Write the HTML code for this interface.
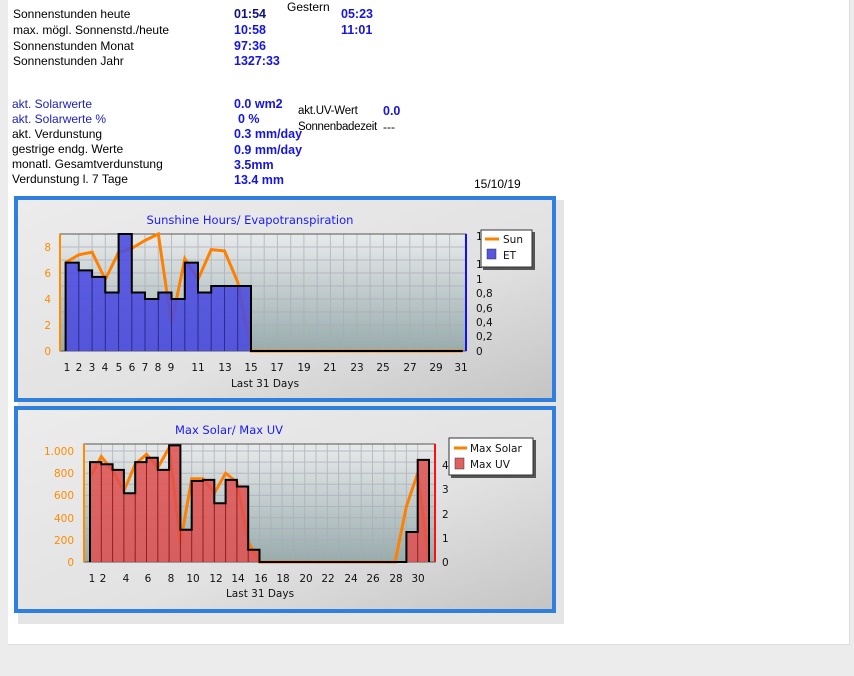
<!DOCTYPE html>
<html><head><meta charset="utf-8"><style>
body{margin:0;width:854px;height:676px;background:#ececec;position:relative;overflow:hidden;font-family:"Liberation Sans",Arial,sans-serif;}
#w{position:absolute;left:8px;top:0;width:841px;height:644px;background:#fff;border-right:1px solid #ddd;border-bottom:1px solid #ddd;}
.t{position:absolute;font-size:12px;color:#000;white-space:nowrap;line-height:14px}
.b{font-weight:bold;color:#1515e0;font-size:12.5px}
.bl{color:#2020c0}
</style></head><body>
<div id="w"></div>
<div class="t" style="left:13px;top:7px">Sonnenstunden heute</div>
<div class="t b" style="left:234px;top:7px;color:#101080">01:54</div>
<div class="t" style="left:287px;top:0px">Gestern</div>
<div class="t b" style="left:341px;top:7px">05:23</div>
<div class="t" style="left:13px;top:23px">max. mögl. Sonnenstd./heute</div>
<div class="t b" style="left:234px;top:23px">10:58</div>
<div class="t b" style="left:341px;top:23px">11:01</div>
<div class="t" style="left:13px;top:39px">Sonnenstunden Monat</div>
<div class="t b" style="left:234px;top:39px">97:36</div>
<div class="t" style="left:13px;top:54px">Sonnenstunden Jahr</div>
<div class="t b" style="left:234px;top:54px">1327:33</div>
<div class="t bl" style="left:12px;top:97px">akt. Solarwerte</div>
<div class="t b" style="left:234px;top:97px">0.0 wm2</div>
<div class="t bl" style="left:12px;top:112px">akt. Solarwerte %</div>
<div class="t b" style="left:238px;top:112px">0 %</div>
<div class="t" style="left:12px;top:127px">akt. Verdunstung</div>
<div class="t b" style="left:234px;top:127px">0.3 mm/day</div>
<div class="t" style="left:12px;top:142px">gestrige endg. Werte</div>
<div class="t b" style="left:234px;top:143px">0.9 mm/day</div>
<div class="t" style="left:12px;top:157px">monatl. Gesamtverdunstung</div>
<div class="t b" style="left:234px;top:158px">3.5mm</div>
<div class="t" style="left:12px;top:172px">Verdunstung l. 7 Tage</div>
<div class="t b" style="left:234px;top:173px">13.4 mm</div>
<div class="t" style="left:298px;top:104px;font-size:11.5px;letter-spacing:-0.2px">akt.UV-Wert</div>
<div class="t b" style="left:383px;top:104px">0.0</div>
<div class="t" style="left:298px;top:120px;font-size:11.5px;letter-spacing:-0.3px">Sonnenbadezeit</div>
<div class="t" style="left:383px;top:120px">---</div>
<div class="t" style="left:474px;top:177px">15/10/19</div>

<svg width="854" height="676" style="position:absolute;left:0;top:0" font-family="DejaVu Sans, Verdana, sans-serif">
<defs>
<linearGradient id="pn" x1="0" y1="0" x2="1" y2="1"><stop offset="0" stop-color="#ececec"/><stop offset="0.6" stop-color="#e2e2e2"/><stop offset="1" stop-color="#c4c4c4"/></linearGradient>
<linearGradient id="pl" x1="0" y1="0" x2="0" y2="1"><stop offset="0" stop-color="#e8eaea"/><stop offset="1" stop-color="#98acac"/></linearGradient>
</defs>
<!-- panel 1 -->
<rect x="18" y="200" width="546" height="210" fill="#d4d4d4" opacity="0.6"/>
<rect x="16" y="198" width="538" height="202" fill="url(#pn)" stroke="#2f7fde" stroke-width="4"/>
<text x="250" y="224" font-size="11.5" fill="#1a1aff" text-anchor="middle">Sunshine Hours/ Evapotranspiration</text>
<rect x="60" y="234" width="406" height="117" fill="url(#pl)"/>
<g stroke="#aab" stroke-width="1" opacity="0.7">
<path d="M60 338H466M60 325H466M60 312H466M60 299H466M60 286H466M60 273H466M60 260H466M60 247H466"/>
<path d="M78.8 234V351M92.1 234V351M105.3 234V351M118.6 234V351M131.8 234V351M145 234V351M158.3 234V351M171.5 234V351M184.8 234V351M198 234V351M211.2 234V351M224.5 234V351M237.7 234V351M251 234V351M264.2 234V351M277.4 234V351M290.7 234V351M303.9 234V351M317.2 234V351M330.4 234V351M343.6 234V351M356.9 234V351M370.1 234V351M383.4 234V351M396.6 234V351M409.8 234V351M423.1 234V351M436.3 234V351M449.6 234V351"/>
</g>
<rect x="60" y="234" width="406" height="117" fill="none" stroke="#555" stroke-width="1"/>
<polyline fill="none" stroke="#ff8000" stroke-width="3" points="65.6,262.6 78.8,254.8 92.1,252.2 105.3,279.5 118.6,252.2 131.8,248.3 145,240.5 158.3,234 171.5,323.7 184.8,258.7 198,279.5 211.2,249.6 224.5,250.9 237.7,282.1 251,351 462.8,351"/>
<path d="M65.6 351V262.6H78.8V270.4H92.1V276.9H105.3V292.5H118.6V234H131.8V292.5H145V299H158.3V292.5H171.5V299H184.8V262.6H198V292.5H211.2V286H251V351Z" fill="#4a4ae0" opacity="0.88"/>
<path d="M78.8 270.4V351M92.1 276.9V351M105.3 292.5V351M118.6 292.5V351M131.8 292.5V351M145 299V351M158.3 299V351M171.5 299V351M184.8 299V351M198 292.5V351M211.2 292.5V351M224.5 286V351M237.7 286V351" stroke="#2a2a90" stroke-width="1"/>
<path d="M65.6 351V262.6H78.8V270.4H92.1V276.9H105.3V292.5H118.6V234H131.8V292.5H145V299H158.3V292.5H171.5V299H184.8V262.6H198V292.5H211.2V286H251V351H462.8" fill="none" stroke="#000" stroke-width="2"/>
<line x1="60" y1="234" x2="60" y2="351" stroke="#ff8c00" stroke-width="2"/>
<line x1="466" y1="234" x2="466" y2="351" stroke="#1010ff" stroke-width="2"/>
<g font-size="10.5" fill="#ff8c00" text-anchor="end"><text x="51" y="355">0</text><text x="51" y="329">2</text><text x="51" y="303">4</text><text x="51" y="277">6</text><text x="51" y="251">8</text></g>
<g font-size="10.5" fill="#111"><text x="476" y="355">0</text><text x="476" y="340">0,2</text><text x="476" y="326">0,4</text><text x="476" y="312">0,6</text><text x="476" y="297">0,8</text><text x="476" y="283">1</text><text x="476" y="268">1,2</text><text x="476" y="240">1</text></g>
<g font-size="10.5" fill="#111" text-anchor="middle"><text x="67" y="371">1</text><text x="79" y="371">2</text><text x="92" y="371">3</text><text x="105" y="371">4</text><text x="119" y="371">5</text><text x="132" y="371">6</text><text x="145" y="371">7</text><text x="158" y="371">8</text><text x="171" y="371">9</text><text x="198" y="371">11</text><text x="225" y="371">13</text><text x="251" y="371">15</text><text x="277" y="371">17</text><text x="304" y="371">19</text><text x="330" y="371">21</text><text x="357" y="371">23</text><text x="383" y="371">25</text><text x="410" y="371">27</text><text x="436" y="371">29</text><text x="461" y="371">31</text>
<text x="265" y="387">Last 31 Days</text></g>
<rect x="483" y="232" width="52" height="38" fill="#555"/>
<rect x="481" y="230" width="51" height="37" fill="#fff" stroke="#333"/>
<line x1="485" y1="239" x2="499" y2="239" stroke="#ff8000" stroke-width="3"/>
<text x="503" y="243" font-size="10.5" fill="#111">Sun</text>
<rect x="487" y="249" width="9" height="10" fill="#5656e0" stroke="#333" stroke-width="0.5"/>
<text x="503" y="259" font-size="10.5" fill="#111">ET</text>

<!-- panel 2 -->
<rect x="18" y="410" width="546" height="214" fill="#d4d4d4" opacity="0.6"/>
<rect x="16" y="408" width="538" height="203" fill="url(#pn)" stroke="#2f7fde" stroke-width="4"/>
<text x="229" y="434" font-size="11.5" fill="#1a1aff" text-anchor="middle">Max Solar/ Max UV</text>
<rect x="84" y="444" width="351" height="118" fill="url(#pl)"/>
<g stroke="#aab" stroke-width="1" opacity="0.7">
<path d="M84 550.9H435M84 539.8H435M84 528.7H435M84 517.6H435M84 506.5H435M84 495.4H435M84 484.3H435M84 473.2H435M84 462.1H435M84 451H435"/>
<path d="M101.3 444V562M112.6 444V562M123.9 444V562M135.2 444V562M146.5 444V562M157.8 444V562M169.1 444V562M180.4 444V562M191.7 444V562M203 444V562M214.3 444V562M225.6 444V562M236.9 444V562M248.2 444V562M259.5 444V562M270.8 444V562M282.1 444V562M293.4 444V562M304.7 444V562M316 444V562M327.3 444V562M338.6 444V562M349.9 444V562M361.2 444V562M372.5 444V562M383.8 444V562M395.1 444V562M406.4 444V562M417.7 444V562"/>
</g>
<rect x="84" y="444" width="351" height="118" fill="none" stroke="#555" stroke-width="1"/>
<polyline fill="none" stroke="#ff8000" stroke-width="3" points="90,477.6 101.3,456.6 112.6,471 123.9,491 135.2,464.3 146.5,454.3 157.8,467.7 169.1,447.7 180.4,543.1 191.7,478.8 203,478.8 214.3,493.2 225.6,473.2 236.9,482.1 248.2,542 259.5,562 395.1,562 406.4,506.5 417.7,473.2 429,562"/>
<path d="M90 562V462.1H101.3V464.3H112.6V469.9H123.9V493.2H135.2V462.1H146.5V457.7H157.8V469.9H169.1V445.4H180.4V529.8H191.7V481H203V479.9H214.3V503.2H225.6V479.9H236.9V486.5H248.2V549.8H259.5V562ZM406.4 562V532H417.7V459.9H429V562Z" fill="#e05050" opacity="0.85"/>
<path d="M101.3 464.3V562M112.6 469.9V562M123.9 493.2V562M135.2 493.2V562M146.5 462.1V562M157.8 469.9V562M169.1 469.9V562M180.4 529.8V562M191.7 529.8V562M203 481V562M214.3 503.2V562M225.6 503.2V562M236.9 486.5V562M248.2 549.8V562M417.7 532V562" stroke="#902020" stroke-width="1"/>
<path d="M90 562V462.1H101.3V464.3H112.6V469.9H123.9V493.2H135.2V462.1H146.5V457.7H157.8V469.9H169.1V445.4H180.4V529.8H191.7V481H203V479.9H214.3V503.2H225.6V479.9H236.9V486.5H248.2V549.8H259.5V562H406.4V532H417.7V459.9H429V562" fill="none" stroke="#000" stroke-width="2"/>
<line x1="84" y1="444" x2="84" y2="562" stroke="#ff8c00" stroke-width="2"/>
<line x1="435" y1="444" x2="435" y2="562" stroke="#ff1010" stroke-width="2"/>
<g font-size="10.5" fill="#ff8c00" text-anchor="end"><text x="74" y="566">0</text><text x="74" y="544">200</text><text x="74" y="522">400</text><text x="74" y="499">600</text><text x="74" y="477">800</text><text x="74" y="455">1.000</text></g>
<g font-size="10.5" fill="#111"><text x="442" y="566">0</text><text x="442" y="542">1</text><text x="442" y="518">2</text><text x="442" y="493">3</text><text x="442" y="469">4</text></g>
<g font-size="10.5" fill="#111" text-anchor="middle"><text x="92" y="582">1</text><text x="103" y="582">2</text><text x="126" y="582">4</text><text x="148" y="582">6</text><text x="171" y="582">8</text><text x="193" y="582">10</text><text x="216" y="582">12</text><text x="238" y="582">14</text><text x="261" y="582">16</text><text x="283" y="582">18</text><text x="306" y="582">20</text><text x="328" y="582">22</text><text x="351" y="582">24</text><text x="373" y="582">26</text><text x="396" y="582">28</text><text x="418" y="582">30</text>
<text x="260" y="597">Last 31 Days</text></g>
<rect x="451" y="440" width="85" height="38" fill="#555"/>
<rect x="449" y="438" width="84" height="37" fill="#fff" stroke="#333"/>
<line x1="454" y1="448" x2="467" y2="448" stroke="#ff8000" stroke-width="3"/>
<text x="470" y="452" font-size="10.5" fill="#111">Max Solar</text>
<rect x="455" y="458" width="9" height="11" fill="#e06060" stroke="#333" stroke-width="0.5"/>
<text x="470" y="468" font-size="10.5" fill="#111">Max UV</text>
</svg>
</body></html>
